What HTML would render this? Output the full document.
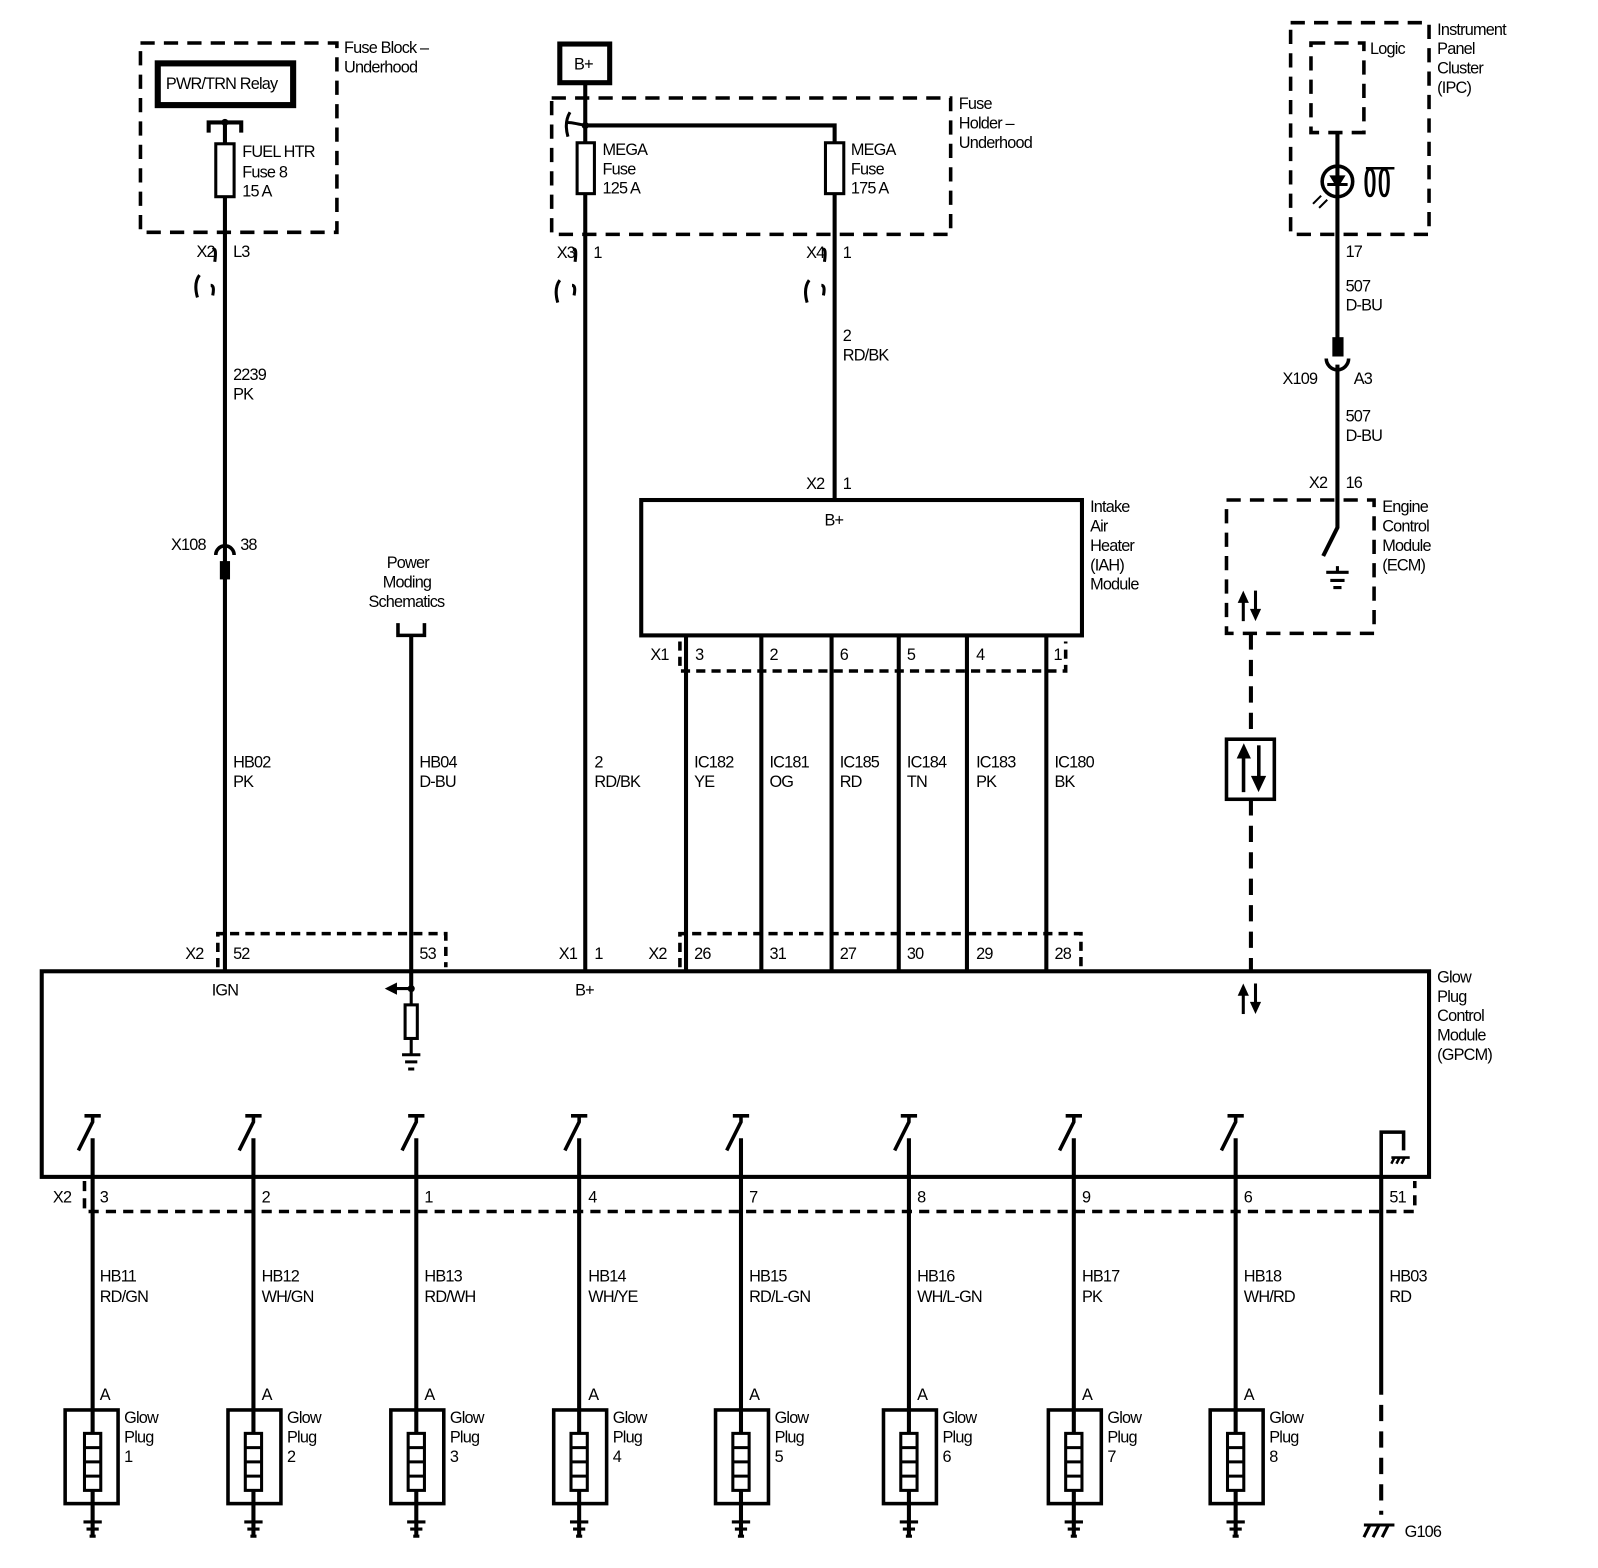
<!DOCTYPE html>
<html><head><meta charset="utf-8"><style>
html,body{margin:0;padding:0;background:#fff;}
svg{display:block;}
text{font-family:"Liberation Sans",sans-serif;font-size:16px;fill:#000;letter-spacing:-0.8px;}
</style></head><body>
<svg width="1598" height="1568" viewBox="0 0 1570 1540" xmlns="http://www.w3.org/2000/svg">
<g fill="none" stroke="#000" stroke-width="4">
<!-- Fuse block underhood -->
<rect x="138" y="42" width="193" height="186" stroke-dasharray="14,9" stroke-width="3.5"/>
<rect x="155" y="62" width="133" height="41" stroke-width="6"/>
<path d="M205 130 V120 H237 V130 M221 120 V954"/>
<rect x="212" y="141" width="18" height="52" stroke-width="3" fill="#fff"/>
<path d="M209 245 q4 -3 2 12 M196 270 q-6 8 -2 22 M207 280 q4 0 2 10" stroke-width="3"/>
<path d="M212 545 a9 9 0 0 1 18 0" stroke-width="3.5"/>
<rect x="218" y="553" width="6" height="14" fill="#000"/>
<!-- B+ -->
<rect x="550" y="43" width="49" height="38" stroke-width="5"/>
<rect x="542" y="96" width="392" height="134" stroke-dasharray="14,9" stroke-width="3.5"/>
<path d="M575 81 V954 M575 123 H820 V491"/>
<path d="M560 110 q-6 10 -2 24 M557 120 q4 0 18 3" stroke-width="3"/>
<rect x="567" y="140" width="17" height="50" stroke-width="3" fill="#fff"/>
<rect x="811" y="140" width="18" height="50" stroke-width="3" fill="#fff"/>
<path d="M563 245 q4 -3 2 12 M550 275 q-6 8 -2 22 M562 280 q4 0 2 10" stroke-width="3"/>
<path d="M808 245 q4 -3 2 12 M795 275 q-6 8 -2 22 M807 280 q4 0 2 10" stroke-width="3"/>
<!-- IAH -->
<rect x="630" y="491" width="433" height="133"/>
<path d="M674 624 V954 M748 624 V954 M817 624 V954 M883 624 V954 M950 624 V954 M1028 624 V954"/>
<path d="M668 630 V659 H1047 V630" stroke-dasharray="9,6" stroke-width="3.5"/>
<path d="M668 950 V917 H1062 V950" stroke-dasharray="9,6" stroke-width="3.5"/>
<!-- Power moding -->
<path d="M391 612 V624 H417 V612" stroke-width="3.5"/>
<path d="M404 624 V971"/>
<path d="M214 950 V917 H438 V950" stroke-dasharray="9,6" stroke-width="3.5"/>
<!-- IPC -->
<rect x="1268" y="22" width="136" height="208" stroke-dasharray="14,9" stroke-width="3.5"/>
<rect x="1288" y="42" width="52" height="88" stroke-dasharray="14,9" stroke-width="3.5"/>
<path d="M1314 130 V340"/>
<circle cx="1314" cy="178" r="15" stroke-width="3.5"/>
<path d="M1304 181 H1324" stroke-width="3"/>
<path d="M1342 165 H1370" stroke-width="2.5"/>
<path d="M1346 166 q-4 0 -4 12 q0 14 4 14 q4 0 4 -14 q0 -12 -4 -12 M1360 166 q-4 0 -4 12 q0 14 4 14 q4 0 4 -14 q0 -12 -4 -12" stroke-width="3"/>
<path d="M1290 200 l8 -8 M1296 204 l8 -8" stroke-width="2"/>
<path d="M1303 352 a11 11 0 0 0 22 0" stroke-width="3.5"/>
<rect x="1311" y="333" width="7" height="15" fill="#000"/>
<path d="M1314 358 V518 L1300 546"/>
<path d="M1303 562 H1325 M1307 570 H1321 M1310 577 H1318 M1314 556 V562" stroke-width="3"/>
<rect x="1205" y="491" width="145" height="131" stroke-dasharray="14,9" stroke-width="3.5"/>
<path d="M1229 622 V726 M1229 785 V954" stroke-dasharray="16,10"/>
<rect x="1205" y="726" width="47" height="59" stroke-width="3.5"/>
<!-- GPCM -->
<rect x="41" y="954" width="1363" height="202"/>
<path d="M404 971 H385" stroke-width="3"/>
<rect x="398" y="987" width="12" height="33" stroke-width="3" fill="#fff"/>
<path d="M404 971 V987 M404 1020 V1036 M395 1036 H413 M398 1043 H410 M401 1050 H407" stroke-width="3"/>
<path d="M1357 1156 V1112 H1379 V1130" stroke-width="3.5"/>
<path d="M1367 1137 H1385 M1370 1137 l-3 6 M1375 1137 l-3 6 M1380 1137 l-3 6" stroke-width="2.5"/>
<path d="M1357 1156 V1370"/>
<path d="M1357 1380 V1488" stroke-dasharray="16,10"/>
<path d="M1340 1498 H1370 M1346 1498 l-6 12 M1355 1498 l-6 12 M1364 1498 l-6 12" stroke-width="3"/>
<path d="M83 1160 V1190 H1390 V1160" stroke-dasharray="10,7" stroke-width="3.5"/>
</g>
<g fill="#000">
<polygon points="378,971 390,965 390,977"/>
<circle cx="404" cy="971" r="3.5"/>
<circle cx="575" cy="123" r="3.5"/>
<circle cx="221" cy="120" r="3.5"/>
<polygon points="1314,185 1306,172 1322,172"/>
<!-- bidirectional arrows -->
<g id="ba"><rect x="1220" y="588" width="3" height="22"/><polygon points="1221.5,580 1216,592 1227,592"/><rect x="1232" y="580" width="3" height="22"/><polygon points="1233.5,610 1228,598 1239,598"/></g>
<rect x="1220" y="738" width="3.5" height="40"/><polygon points="1222,730 1215,745 1229,745"/><rect x="1235" y="732" width="3.5" height="38"/><polygon points="1236.5,778 1229,762 1244,762"/>
<rect x="1220" y="974" width="3" height="22"/><polygon points="1221.5,966 1216,978 1227,978"/><rect x="1232" y="966" width="3" height="22"/><polygon points="1233.5,996 1228,984 1239,984"/>
</g>
<!-- glow plug channels -->
<g fill="none" stroke="#000" stroke-width="4">
<path d="M91 1118 V1510 M249 1118 V1510 M409 1118 V1510 M569 1118 V1510 M728 1118 V1510 M893 1118 V1510 M1055 1118 V1510 M1214 1118 V1510"/>
<g stroke-width="3.5">
<path d="M83 1096 H99 M91 1096 V1102 L77 1130"/><path d="M241 1096 H257 M249 1096 V1102 L235 1130"/>
<path d="M401 1096 H417 M409 1096 V1102 L395 1130"/><path d="M561 1096 H577 M569 1096 V1102 L555 1130"/>
<path d="M720 1096 H736 M728 1096 V1102 L714 1130"/><path d="M885 1096 H901 M893 1096 V1102 L879 1130"/>
<path d="M1047 1096 H1063 M1055 1096 V1102 L1041 1130"/><path d="M1206 1096 H1222 M1214 1096 V1102 L1200 1130"/>
</g>
<g stroke-width="3.5">
<rect x="64" y="1385" width="52" height="92"/><rect x="224" y="1385" width="52" height="92"/><rect x="384" y="1385" width="52" height="92"/><rect x="544" y="1385" width="52" height="92"/>
<rect x="703" y="1385" width="52" height="92"/><rect x="868" y="1385" width="52" height="92"/><rect x="1030" y="1385" width="52" height="92"/><rect x="1189" y="1385" width="52" height="92"/>
</g>
<g stroke-width="3" fill="#fff">
<rect x="83" y="1408" width="16" height="56"/><rect x="241" y="1408" width="16" height="56"/><rect x="401" y="1408" width="16" height="56"/><rect x="561" y="1408" width="16" height="56"/>
<rect x="720" y="1408" width="16" height="56"/><rect x="885" y="1408" width="16" height="56"/><rect x="1047" y="1408" width="16" height="56"/><rect x="1206" y="1408" width="16" height="56"/>
</g>
<g stroke-width="3">
<path d="M83 1422 H99 M83 1436 H99 M83 1450 H99 M241 1422 H257 M241 1436 H257 M241 1450 H257 M401 1422 H417 M401 1436 H417 M401 1450 H417 M561 1422 H577 M561 1436 H577 M561 1450 H577 M720 1422 H736 M720 1436 H736 M720 1450 H736 M885 1422 H901 M885 1436 H901 M885 1450 H901 M1047 1422 H1063 M1047 1436 H1063 M1047 1450 H1063 M1206 1422 H1222 M1206 1436 H1222 M1206 1450 H1222"/>
<path d="M82 1495 H100 M85 1502 H97 M88 1509 H94 M240 1495 H258 M243 1502 H255 M246 1509 H252 M400 1495 H418 M403 1502 H415 M406 1509 H412 M560 1495 H578 M563 1502 H575 M566 1509 H572 M719 1495 H737 M722 1502 H734 M725 1509 H731 M884 1495 H902 M887 1502 H899 M890 1509 H896 M1046 1495 H1064 M1049 1502 H1061 M1052 1509 H1058 M1205 1495 H1223 M1208 1502 H1220 M1211 1509 H1217"/>
</g>
</g>
<g>
<text x="338" y="52">Fuse Block –</text><text x="338" y="71">Underhood</text>
<text x="163" y="87">PWR/TRN Relay</text>
<text x="238" y="154">FUEL HTR</text><text x="238" y="174">Fuse 8</text><text x="238" y="193">15 A</text>
<text x="193" y="252">X2</text><text x="229" y="252">L3</text>
<text x="229" y="373">2239</text><text x="229" y="392">PK</text>
<text x="168" y="540">X108</text><text x="236" y="540">38</text>
<text x="229" y="754">HB02</text><text x="229" y="773">PK</text>
<text x="182" y="942">X2</text><text x="229" y="942">52</text><text x="412" y="942">53</text>
<text x="208" y="978">IGN</text>
<text x="380" y="558">Power</text><text x="376" y="577">Moding</text><text x="362" y="596">Schematics</text>
<text x="412" y="754">HB04</text><text x="412" y="773">D-BU</text>
<text x="564" y="68">B+</text>
<text x="942" y="107">Fuse</text><text x="942" y="126">Holder –</text><text x="942" y="145">Underhood</text>
<text x="592" y="152">MEGA</text><text x="592" y="171">Fuse</text><text x="592" y="190">125 A</text>
<text x="836" y="152">MEGA</text><text x="836" y="171">Fuse</text><text x="836" y="190">175 A</text>
<text x="547" y="253">X3</text><text x="583" y="253">1</text>
<text x="792" y="253">X4</text><text x="828" y="253">1</text>
<text x="828" y="335">2</text><text x="828" y="354">RD/BK</text>
<text x="792" y="480">X2</text><text x="828" y="480">1</text>
<text x="810" y="516">B+</text>
<text x="1071" y="503">Intake</text><text x="1071" y="522">Air</text><text x="1071" y="541">Heater</text><text x="1071" y="560">(IAH)</text><text x="1071" y="579">Module</text>
<text x="639" y="648">X1</text><text x="683" y="648">3</text><text x="756" y="648">2</text><text x="825" y="648">6</text><text x="891" y="648">5</text><text x="959" y="648">4</text><text x="1035" y="648">1</text>
<text x="584" y="754">2</text><text x="584" y="773">RD/BK</text>
<text x="682" y="754">IC182</text><text x="682" y="773">YE</text>
<text x="756" y="754">IC181</text><text x="756" y="773">OG</text>
<text x="825" y="754">IC185</text><text x="825" y="773">RD</text>
<text x="891" y="754">IC184</text><text x="891" y="773">TN</text>
<text x="959" y="754">IC183</text><text x="959" y="773">PK</text>
<text x="1036" y="754">IC180</text><text x="1036" y="773">BK</text>
<text x="549" y="942">X1</text><text x="584" y="942">1</text><text x="637" y="942">X2</text>
<text x="682" y="942">26</text><text x="756" y="942">31</text><text x="825" y="942">27</text><text x="891" y="942">30</text><text x="959" y="942">29</text><text x="1036" y="942">28</text>
<text x="565" y="978">B+</text>
<text x="1412" y="34">Instrument</text><text x="1412" y="53">Panel</text><text x="1412" y="72">Cluster</text><text x="1412" y="91">(IPC)</text>
<text x="1346" y="53">Logic</text>
<text x="1322" y="252">17</text>
<text x="1322" y="286">507</text><text x="1322" y="305">D-BU</text>
<text x="1260" y="377">X109</text><text x="1330" y="377">A3</text>
<text x="1322" y="414">507</text><text x="1322" y="433">D-BU</text>
<text x="1286" y="479">X2</text><text x="1322" y="479">16</text>
<text x="1358" y="503">Engine</text><text x="1358" y="522">Control</text><text x="1358" y="541">Module</text><text x="1358" y="560">(ECM)</text>
<text x="1412" y="965">Glow</text><text x="1412" y="984">Plug</text><text x="1412" y="1003">Control</text><text x="1412" y="1022">Module</text><text x="1412" y="1041">(GPCM)</text>
<text x="52" y="1181">X2</text>
<text x="98" y="1181">3</text><text x="257" y="1181">2</text><text x="417" y="1181">1</text><text x="578" y="1181">4</text><text x="736" y="1181">7</text><text x="901" y="1181">8</text><text x="1063" y="1181">9</text><text x="1222" y="1181">6</text><text x="1365" y="1181">51</text>
<text x="98" y="1259">HB11</text><text x="98" y="1279">RD/GN</text>
<text x="257" y="1259">HB12</text><text x="257" y="1279">WH/GN</text>
<text x="417" y="1259">HB13</text><text x="417" y="1279">RD/WH</text>
<text x="578" y="1259">HB14</text><text x="578" y="1279">WH/YE</text>
<text x="736" y="1259">HB15</text><text x="736" y="1279">RD/L-GN</text>
<text x="901" y="1259">HB16</text><text x="901" y="1279">WH/L-GN</text>
<text x="1063" y="1259">HB17</text><text x="1063" y="1279">PK</text>
<text x="1222" y="1259">HB18</text><text x="1222" y="1279">WH/RD</text>
<text x="1365" y="1259">HB03</text><text x="1365" y="1279">RD</text>
<text x="98" y="1375">A</text><text x="257" y="1375">A</text><text x="417" y="1375">A</text><text x="578" y="1375">A</text><text x="736" y="1375">A</text><text x="901" y="1375">A</text><text x="1063" y="1375">A</text><text x="1222" y="1375">A</text>
<text x="122" y="1398">Glow</text><text x="122" y="1417">Plug</text><text x="122" y="1436">1</text>
<text x="282" y="1398">Glow</text><text x="282" y="1417">Plug</text><text x="282" y="1436">2</text>
<text x="442" y="1398">Glow</text><text x="442" y="1417">Plug</text><text x="442" y="1436">3</text>
<text x="602" y="1398">Glow</text><text x="602" y="1417">Plug</text><text x="602" y="1436">4</text>
<text x="761" y="1398">Glow</text><text x="761" y="1417">Plug</text><text x="761" y="1436">5</text>
<text x="926" y="1398">Glow</text><text x="926" y="1417">Plug</text><text x="926" y="1436">6</text>
<text x="1088" y="1398">Glow</text><text x="1088" y="1417">Plug</text><text x="1088" y="1436">7</text>
<text x="1247" y="1398">Glow</text><text x="1247" y="1417">Plug</text><text x="1247" y="1436">8</text>
<text x="1380" y="1510">G106</text>
</g>
</svg>
</body></html>
